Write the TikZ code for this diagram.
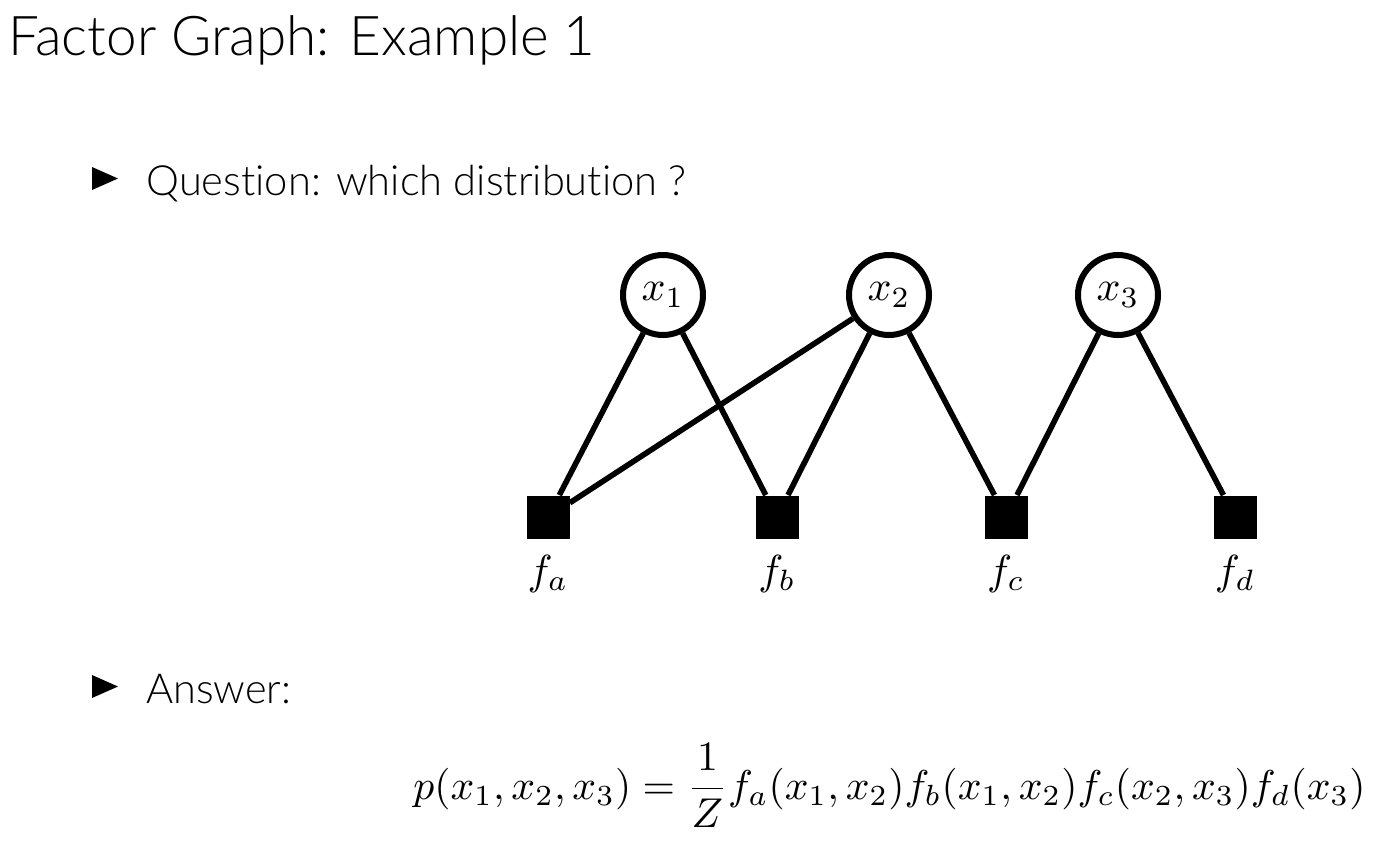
\documentclass[tikz,border=0pt]{standalone}
\usepackage{fontspec}
\setmainfont{Lato Light}[Ligatures=NoCommon]
\usepackage{graphicx}
\begin{document}
\begin{tikzpicture}[x=0.5pt,y=-0.5pt,
  varnode/.style={circle,draw=black,line width=3pt,fill=white,minimum size=40pt,inner sep=0pt},
  factornode/.style={rectangle,fill=black,minimum size=21.5pt,inner sep=0pt},
  flabel/.style={inner sep=0pt},
  edge/.style={line width=2.8pt},
  bulletmark/.style={fill=black},
  slidetext/.style={anchor=base west,inner sep=0pt}]
  \useasboundingbox (0,0) rectangle (1387,842);

  % title and bullet points
  \node[slidetext] (title) at (8,55) {\resizebox{293.5pt}{!}{Factor Graph: Example 1}};
  \fill[bulletmark] (92,167) -- (92,190) -- (118,178.5) -- cycle;
  \node[slidetext] (question) at (146,195) {\resizebox{270pt}{!}{Question: which distribution ?}};
  \fill[bulletmark] (92,675) -- (92,698) -- (118,686.5) -- cycle;
  \node[slidetext] (answer) at (146,703) {\resizebox{72.5pt}{!}{Answer:}};

  % variable nodes
  \node[varnode] (x1) at (663,295) {\scalebox{2.1}{$x_1$}};
  \node[varnode] (x2) at (889,295) {\scalebox{2.1}{$x_2$}};
  \node[varnode] (x3) at (1118,295) {\scalebox{2.1}{$x_3$}};

  % factor nodes
  \node[factornode] (fa) at (548,517) {};
  \node[factornode] (fb) at (777,517) {};
  \node[factornode] (fc) at (1006,517) {};
  \node[factornode] (fd) at (1235,517) {};
  \node[flabel] (la) at (548,574) {\scalebox{2.1}{$f_a$}};
  \node[flabel] (lb) at (777,574) {\scalebox{2.1}{$f_b$}};
  \node[flabel] (lc) at (1006,574) {\scalebox{2.1}{$f_c$}};
  \node[flabel] (ld) at (1235,574) {\scalebox{2.1}{$f_d$}};

  % edges
  \draw[edge] (x1) -- (fa);
  \draw[edge] (x2) -- (fa);
  \draw[edge] (x1) -- (fb);
  \draw[edge] (x2) -- (fb);
  \draw[edge] (x2) -- (fc);
  \draw[edge] (x3) -- (fc);
  \draw[edge] (x3) -- (fd);

  % joint distribution
  \node[slidetext] (eq) at (413,799) {\resizebox{476pt}{!}{$\displaystyle
    p(x_1,x_2,x_3)=\frac{1}{Z}f_a(x_1,x_2)f_b(x_1,x_2)f_c(x_2,x_3)f_d(x_3)$}};
\end{tikzpicture}
\end{document}
